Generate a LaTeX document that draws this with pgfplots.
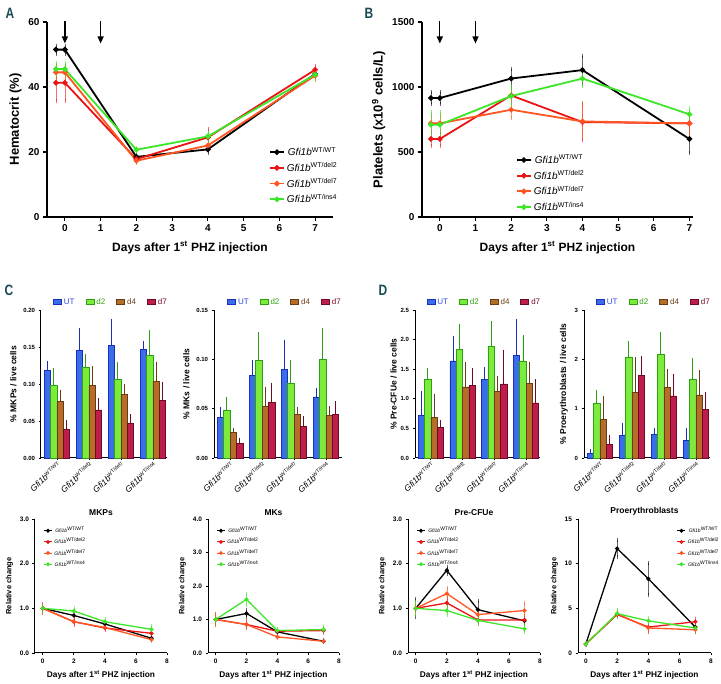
\documentclass[border=0pt]{standalone}
\usepackage{fontspec}
\setmainfont{Liberation Sans}
\usepackage{pgfplots}
\pgfplotsset{compat=1.18}
\usetikzlibrary{arrows.meta}

\definecolor{cwt}{RGB}{0,0,0}
\definecolor{cdeltwo}{RGB}{235,20,20}
\definecolor{cdelseven}{RGB}{255,85,35}
\definecolor{cins}{RGB}{60,230,40}
\definecolor{utf}{RGB}{58,110,232}
\definecolor{utd}{RGB}{25,45,190}
\definecolor{uttext}{RGB}{40,70,220}
\definecolor{dtwof}{RGB}{125,235,60}
\definecolor{dtwod}{RGB}{45,160,15}
\definecolor{dfourf}{RGB}{180,110,40}
\definecolor{dfourd}{RGB}{105,60,20}
\definecolor{dsevf}{RGB}{190,30,75}
\definecolor{dsevd}{RGB}{110,10,35}
\definecolor{lettc}{RGB}{25,75,85}

\newcommand{\fsz}[1]{\fontsize{#1}{#1}\selectfont}
\newcommand{\G}[1]{\textit{Gfi1b}\textsuperscript{#1}}
\newcommand{\GB}[1]{\textit{Gfi1b}\raisebox{0.75ex}{\fsz{5.2}#1}}

\pgfplotsset{
  gp/.style={scale only axis, clip=false, axis x line*=bottom, axis y line*=left,
    tick align=outside, /pgf/number format/assume math mode=true,
    /pgf/number format/1000 sep={}, every tick/.style={black}},
  ser/.style={color=#1, line width=1.3pt, mark=*, mark size=1.4pt, mark options={solid,fill=#1},
    error bars/y dir=both, error bars/y explicit,
    error bars/error bar style={line width=0.6pt, opacity=0.6},
    error bars/error mark options={mark size=2pt, line width=0.6pt, opacity=0.6}},
  bars/.style 2 args={ybar, bar shift=0pt, bar width=0.2, fill=#1, draw=#2, line width=0.6pt,
    error bars/y dir=plus, error bars/y explicit,
    error bars/error bar style={line width=0.7pt, color=#2},
    error bars/error mark options={mark size=1.6pt, line width=0.7pt, color=#2}},
  bigax/.style={gp, anchor=south west, height=195pt, axis line style={line width=1.4pt,-},
    major tick length=4pt, every tick/.append style={line width=1.2pt},
    every axis plot post/.append style={line width=1.8pt, mark size=1.8pt},
    tick label style={font=\bfseries\fsz{10}},
    xlabel={Days after 1\textsuperscript{st} PHZ injection}, xlabel style={font=\bfseries\fsz{12}, yshift=-3pt},
    ylabel style={font=\bfseries\fsz{13}},
    legend style={draw=none, fill=none, font=\fsz{10}, row sep=1.5pt},
    legend image code/.code={\draw[mark repeat=2,mark phase=2,##1] plot coordinates {(0pt,0pt) (7pt,0pt) (14pt,0pt)};}},
  barax/.style={gp, anchor=south west, height=148pt, xmin=-0.5, xmax=3.44, ymin=0,
    axis line style={line width=1pt,-}, major tick length=2.5pt, every tick/.append style={line width=0.8pt},
    xtick={0,1,2,3}, xticklabels={\GB{WT/WT},\GB{WT/del2},\GB{WT/del7},\GB{WT/ins4}},
    xticklabel style={rotate=42, anchor=north east, font=\fsz{8.5}, inner sep=0.5pt},
    yticklabel style={font=\bfseries\fsz{6}},
    ylabel style={font=\bfseries\fsz{8.5}},
    legend style={at={(0.555,1.0)}, anchor=south, legend columns=4, draw=none, fill=none, font=\fsz{8},
      /tikz/every even column/.append style={column sep=9pt}},
    legend image code/.code={\draw[##1, line width=0.8pt] (0pt,-2.5pt) rectangle (8pt,2.5pt);}},
  lineax/.style={gp, anchor=south west, height=134pt, xmin=-0.5, xmax=8, ymin=0,
    axis line style={line width=1pt,-}, major tick length=2.5pt, every tick/.append style={line width=0.8pt},
    xtick={0,2,4,6,8}, tick label style={font=\bfseries\fsz{6.5}},
    xlabel={Days after 1\textsuperscript{st} PHZ injection}, xlabel style={font=\bfseries\fsz{8.3}},
    ylabel={Relative change}, ylabel style={font=\bfseries\fsz{7.5}},
    title style={font=\bfseries\fsz{8.5}, yshift=-6pt},
    legend style={draw=none, fill=none, font=\fsz{5}, row sep=0pt},
    legend image code/.code={\draw[mark repeat=2,mark phase=2,##1,line width=1pt] plot coordinates {(0pt,0pt) (4pt,0pt) (8pt,0pt)};}},
}

\begin{document}
\begin{tikzpicture}
\useasboundingbox (0,0) rectangle (721pt,684pt);

% panel letters
\node[font=\bfseries\fsz{15}, text=lettc, xscale=0.8] at (10pt,671pt) {A};
\node[font=\bfseries\fsz{15}, text=lettc, xscale=0.8] at (369pt,671pt) {B};
\node[font=\bfseries\fsz{15}, text=lettc, xscale=0.8] at (9pt,394pt) {C};
\node[font=\bfseries\fsz{15}, text=lettc, xscale=0.8] at (383pt,394pt) {D};

% ---------- A ----------
\begin{axis}[bigax, at={(47pt,467pt)}, width=286pt,
  xmin=-0.5, xmax=7.5, ymin=0, ymax=60, xtick={0,...,7}, ytick={0,20,40,60},
  ylabel={Hematocrit (\%)},
  legend style={at={(0.765,0.38)}, anchor=north west}]
\addplot[ser=cwt] coordinates {(-0.25,51.5) +- (0,1.2) (0,51.5) +- (0,1.2) (2,18.5) +- (0,1.0) (4,20.8) +- (0,1.0) (7,44.0) +- (0,1.2)};
\addplot[ser=cdeltwo] coordinates {(-0.25,41.3) +- (0,5.5) (0,41.3) +- (0,5.5) (2,17.8) +- (0,0.8) (4,24.5) +- (0,2.7) (7,45.3) +- (0,1.3)};
\addplot[ser=cdelseven] coordinates {(-0.25,44.5) +- (0,2.0) (0,44.5) +- (0,2.0) (2,17.3) +- (0,0.8) (4,22.0) +- (0,1.5) (7,43.5) +- (0,1.3)};
\addplot[ser=cins] coordinates {(-0.25,45.5) +- (0,1.8) (0,45.5) +- (0,1.8) (2,20.7) +- (0,0.6) (4,24.8) +- (0,1.5) (7,43.8) +- (0,1.2)};
\legend{\G{WT/WT},\G{WT/del2},\G{WT/del7},\G{WT/ins4}}
\draw[line width=1.3pt, -{Triangle[length=7pt,width=6pt]}] (axis cs:0,60.3) -- (axis cs:0,53.4);
\draw[line width=1.3pt, -{Triangle[length=7pt,width=6pt]}] (axis cs:1,60.3) -- (axis cs:1,53.4);
\end{axis}

% ---------- B ----------
\begin{axis}[bigax, at={(422pt,467pt)}, width=271pt,
  xmin=-0.5, xmax=7.1, ymin=0, ymax=1500, xtick={0,...,7}, ytick={0,500,1000,1500},
  ylabel={Platelets (x10\textsuperscript{9} cells/L)},
  legend style={at={(0.335,0.34)}, anchor=north west}]
\addplot[ser=cwt] coordinates {(-0.25,915) +- (0,45) (0,915) +- (0,45) (2,1065) +- (0,70) (4,1130) +- (0,110) (7,600) +- (0,105)};
\addplot[ser=cdeltwo] coordinates {(-0.25,600) +- (0,55) (0,600) +- (0,55) (2,935) +- (0,60) (4,730) +- (0,140) (7,720) +- (0,30)};
\addplot[ser=cdelseven] coordinates {(-0.25,720) +- (0,60) (0,720) +- (0,60) (2,825) +- (0,65) (4,735) +- (0,140) (7,720) +- (0,90)};
\addplot[ser=cins] coordinates {(-0.25,710) +- (0,100) (0,710) +- (0,100) (2,930) +- (0,70) (4,1065) +- (0,60) (7,790) +- (0,50)};
\legend{\G{WT/WT},\G{WT/del2},\G{WT/del7},\G{WT/ins4}}
\draw[line width=1.3pt, -{Triangle[length=7pt,width=6pt]}] (axis cs:0,1508) -- (axis cs:0,1335);
\draw[line width=1.3pt, -{Triangle[length=7pt,width=6pt]}] (axis cs:1,1508) -- (axis cs:1,1335);
\end{axis}

% ---------- C: MKPs bars ----------
\begin{axis}[barax, at={(41pt,226pt)}, width=126pt, ymax=0.2,
  ytick={0,0.05,0.1,0.15,0.2},
  yticklabel style={/pgf/number format/.cd, fixed, fixed zerofill, precision=2},
  ylabel={\% MKPs / live cells}]
\addplot[bars={utf}{utd}] coordinates {(-0.3,0.118) +- (0,0.011) (0.7,0.145) +- (0,0.029) (1.7,0.152) +- (0,0.034) (2.7,0.147) +- (0,0.009)};
\addplot[bars={dtwof}{dtwod}] coordinates {(-0.1,0.098) +- (0,0.022) (0.9,0.123) +- (0,0.016) (1.9,0.106) +- (0,0.021) (2.9,0.139) +- (0,0.032)};
\addplot[bars={dfourf}{dfourd}] coordinates {(0.1,0.076) +- (0,0.014) (1.1,0.098) +- (0,0.024) (2.1,0.086) +- (0,0.012) (3.1,0.104) +- (0,0.024)};
\addplot[bars={dsevf}{dsevd}] coordinates {(0.3,0.039) +- (0,0.010) (1.3,0.065) +- (0,0.014) (2.3,0.047) +- (0,0.010) (3.3,0.078) +- (0,0.023)};
\legend{\textcolor{uttext}{UT},\textcolor{dtwod}{d2},\textcolor{dfourd}{d4},\textcolor{dsevd}{d7}}
\end{axis}

% ---------- C: MKs bars ----------
\begin{axis}[barax, at={(214pt,226pt)}, width=128pt, xmax=3.5, ymax=0.15,
  ytick={0,0.05,0.1,0.15},
  yticklabel style={/pgf/number format/.cd, fixed, fixed zerofill, precision=2},
  ylabel={\% MKs / live cells}]
\addplot[bars={utf}{utd}] coordinates {(-0.3,0.041) +- (0,0.009) (0.7,0.084) +- (0,0.014) (1.7,0.090) +- (0,0.028) (2.7,0.062) +- (0,0.007)};
\addplot[bars={dtwof}{dtwod}] coordinates {(-0.1,0.048) +- (0,0.012) (0.9,0.099) +- (0,0.027) (1.9,0.076) +- (0,0.022) (2.9,0.100) +- (0,0.030)};
\addplot[bars={dfourf}{dfourd}] coordinates {(0.1,0.026) +- (0,0.003) (1.1,0.052) +- (0,0.018) (2.1,0.044) +- (0,0.006) (3.1,0.043) +- (0,0.008)};
\addplot[bars={dsevf}{dsevd}] coordinates {(0.3,0.015) +- (0,0.004) (1.3,0.056) +- (0,0.018) (2.3,0.032) +- (0,0.009) (3.3,0.044) +- (0,0.012)};
\legend{\textcolor{uttext}{UT},\textcolor{dtwod}{d2},\textcolor{dfourd}{d4},\textcolor{dsevd}{d7}}
\end{axis}

% ---------- D: Pre-CFUe bars ----------
\begin{axis}[barax, at={(415pt,226pt)}, width=125pt, ymax=2.5,
  ytick={0,0.5,1,1.5,2,2.5},
  yticklabel style={/pgf/number format/.cd, fixed, fixed zerofill, precision=1},
  ylabel={\% Pre-CFUe / live cells}, ylabel shift=-3pt]
\addplot[bars={utf}{utd}] coordinates {(-0.3,0.72) +- (0,0.38) (0.7,1.64) +- (0,0.39) (1.7,1.33) +- (0,0.18) (2.7,1.73) +- (0,0.59)};
\addplot[bars={dtwof}{dtwod}] coordinates {(-0.1,1.33) +- (0,0.17) (0.9,1.83) +- (0,0.40) (1.9,1.89) +- (0,0.40) (2.9,1.64) +- (0,0.41)};
\addplot[bars={dfourf}{dfourd}] coordinates {(0.1,0.69) +- (0,0.37) (1.1,1.20) +- (0,0.39) (2.1,1.13) +- (0,0.22) (3.1,1.26) +- (0,0.34)};
\addplot[bars={dsevf}{dsevd}] coordinates {(0.3,0.51) +- (0,0.10) (1.3,1.22) +- (0,0.27) (2.3,1.25) +- (0,0.55) (3.3,0.93) +- (0,0.38)};
\legend{\textcolor{uttext}{UT},\textcolor{dtwod}{d2},\textcolor{dfourd}{d4},\textcolor{dsevd}{d7}}
\end{axis}

% ---------- D: Proerythroblasts bars ----------
\begin{axis}[barax, at={(584pt,226pt)}, width=126pt, ymax=3,
  ytick={0,1,2,3},
  ylabel={\% Proerythroblasts / live cells}]
\addplot[bars={utf}{utd}] coordinates {(-0.3,0.10) +- (0,0.05) (0.7,0.46) +- (0,0.22) (1.7,0.48) +- (0,0.10) (2.7,0.36) +- (0,0.22)};
\addplot[bars={dtwof}{dtwod}] coordinates {(-0.1,1.10) +- (0,0.24) (0.9,2.05) +- (0,0.29) (1.9,2.10) +- (0,0.43) (2.9,1.59) +- (0,0.40)};
\addplot[bars={dfourf}{dfourd}] coordinates {(0.1,0.78) +- (0,0.44) (1.1,1.33) +- (0,0.69) (2.1,1.43) +- (0,0.35) (3.1,1.28) +- (0,0.47)};
\addplot[bars={dsevf}{dsevd}] coordinates {(0.3,0.27) +- (0,0.17) (1.3,1.67) +- (0,0.36) (2.3,1.26) +- (0,0.42) (3.3,0.98) +- (0,0.32)};
\legend{\textcolor{uttext}{UT},\textcolor{dtwod}{d2},\textcolor{dfourd}{d4},\textcolor{dsevd}{d7}}
\end{axis}

% ---------- line: MKPs ----------
\begin{axis}[lineax, at={(35pt,31pt)}, width=132pt, ymax=3, ytick={0,1,2,3},
  yticklabel style={/pgf/number format/.cd, fixed, fixed zerofill, precision=1},
  title={MKPs}, legend style={at={(0.04,0.97)}, anchor=north west}]
\addplot[ser=cwt] coordinates {(0,1.0) +- (0,0.05) (2,0.84) +- (0,0.10) (4,0.65) +- (0,0.05) (7,0.33) +- (0,0.03)};
\addplot[ser=cdeltwo] coordinates {(0,1.0) +- (0,0.10) (2,0.70) +- (0,0.07) (4,0.56) +- (0,0.04) (7,0.44) +- (0,0.04)};
\addplot[ser=cdelseven] coordinates {(0,1.0) +- (0,0.08) (2,0.70) +- (0,0.06) (4,0.57) +- (0,0.04) (7,0.30) +- (0,0.03)};
\addplot[ser=cins] coordinates {(0,1.0) +- (0,0.05) (2,0.94) +- (0,0.07) (4,0.70) +- (0,0.05) (7,0.53) +- (0,0.07)};
\legend{\G{WT/WT},\G{WT/del2},\G{WT/del7},\G{WT/ins4}}
\end{axis}

% ---------- line: MKs ----------
\begin{axis}[lineax, at={(208pt,31pt)}, width=131pt, ymax=4, ytick={0,1,2,3,4},
  yticklabel style={/pgf/number format/.cd, fixed, fixed zerofill, precision=1},
  title={MKs}, legend style={at={(0.04,0.97)}, anchor=north west}]
\addplot[ser=cwt] coordinates {(0,1.0) +- (0,0.08) (2,1.18) +- (0,0.10) (4,0.63) +- (0,0.03) (7,0.35) +- (0,0.03)};
\addplot[ser=cdeltwo] coordinates {(0,1.0) +- (0,0.15) (2,0.85) +- (0,0.10) (4,0.65) +- (0,0.04) (7,0.67) +- (0,0.07)};
\addplot[ser=cdelseven] coordinates {(0,1.0) +- (0,0.15) (2,0.85) +- (0,0.10) (4,0.48) +- (0,0.03) (7,0.35) +- (0,0.03)};
\addplot[ser=cins] coordinates {(0,1.0) +- (0,0.05) (2,1.60) +- (0,0.17) (4,0.67) +- (0,0.04) (7,0.70) +- (0,0.07)};
\legend{\G{WT/WT},\G{WT/del2},\G{WT/del7},\G{WT/ins4}}
\end{axis}

% ---------- line: Pre-CFUe ----------
\begin{axis}[lineax, at={(408pt,31pt)}, width=132pt, ymax=3, ytick={0,1,2,3},
  yticklabel style={/pgf/number format/.cd, fixed, fixed zerofill, precision=1},
  title={Pre-CFUe}, legend style={at={(0.04,0.97)}, anchor=north west}]
\addplot[ser=cwt] coordinates {(0,1.0) +- (0,0.20) (2,1.85) +- (0,0.08) (4,0.97) +- (0,0.20) (7,0.72) +- (0,0.05)};
\addplot[ser=cdeltwo] coordinates {(0,1.0) +- (0,0.10) (2,1.12) +- (0,0.10) (4,0.74) +- (0,0.08) (7,0.74) +- (0,0.08)};
\addplot[ser=cdelseven] coordinates {(0,1.0) +- (0,0.12) (2,1.33) +- (0,0.12) (4,0.86) +- (0,0.10) (7,0.95) +- (0,0.18)};
\addplot[ser=cins] coordinates {(0,1.0) +- (0,0.15) (2,0.95) +- (0,0.10) (4,0.73) +- (0,0.06) (7,0.54) +- (0,0.08)};
\legend{\G{WT/WT},\G{WT/del2},\G{WT/del7},\G{WT/ins4}}
\end{axis}

% ---------- line: Proerythroblasts ----------
\begin{axis}[lineax, at={(578pt,31pt)}, width=133pt, ymax=15, ytick={0,5,10,15},
  title={Proerythroblasts}, legend style={at={(0.72,0.97)}, anchor=north west}]
\addplot[ser=cwt] coordinates {(0,1.0) +- (0,0.10) (2,11.7) +- (0,1.0) (4,8.3) +- (0,1.8) (7,2.9) +- (0,0.5)};
\addplot[ser=cdeltwo] coordinates {(0,1.0) +- (0,0.10) (2,4.3) +- (0,0.3) (4,2.9) +- (0,0.5) (7,3.5) +- (0,0.35)};
\addplot[ser=cdelseven] coordinates {(0,1.0) +- (0,0.10) (2,4.4) +- (0,0.3) (4,2.8) +- (0,0.4) (7,2.6) +- (0,0.3)};
\addplot[ser=cins] coordinates {(0,1.0) +- (0,0.10) (2,4.4) +- (0,0.4) (4,3.6) +- (0,0.3) (7,2.8) +- (0,0.3)};
\legend{\G{WT/WT},\G{WT/del2},\G{WT/del7},\G{WT/ins4}}
\end{axis}
\end{tikzpicture}
\end{document}
